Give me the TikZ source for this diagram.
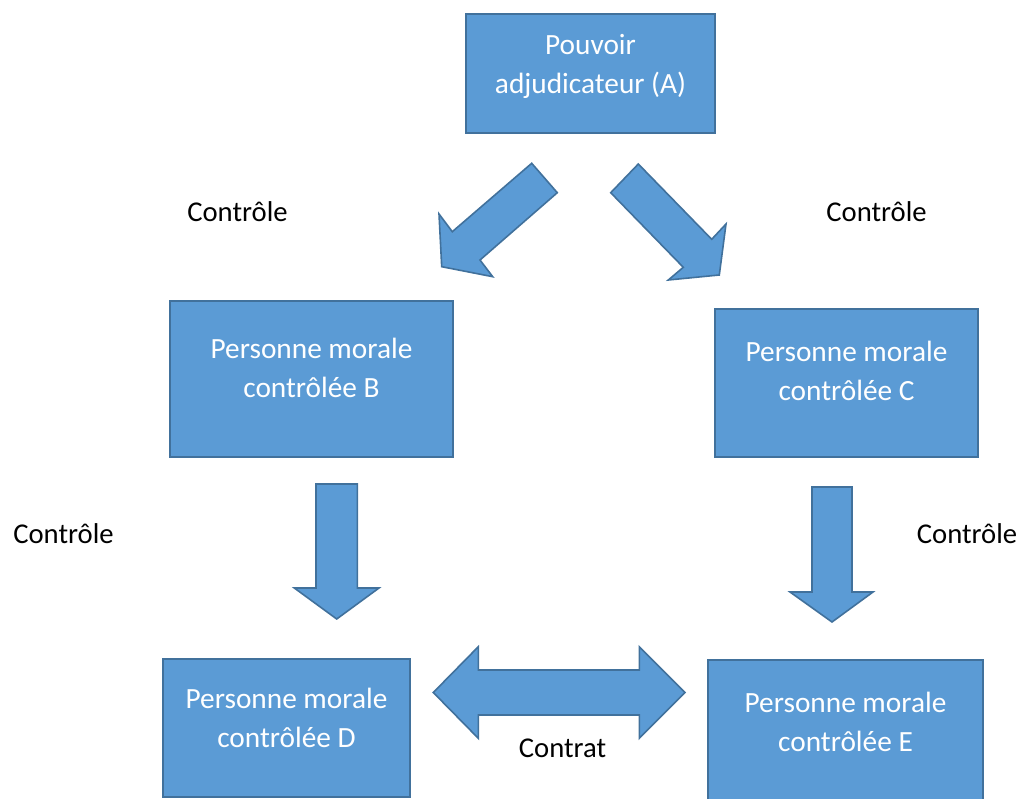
\documentclass[tikz,border=0pt]{standalone}
\usepackage{fontspec}
\setmainfont{Carlito}
\usepackage{tikz}
\definecolor{boxfill}{HTML}{5B9BD5}
\definecolor{boxline}{HTML}{41719C}

\begin{document}
\begin{tikzpicture}[x=0.75pt,y=-0.75pt,font=\fontsize{21.5}{29}\selectfont]
  \tikzstyle{box}=[draw=boxline,fill=boxfill,line width=1.2pt,inner sep=0pt]
  \tikzstyle{boxtext}=[text=white,align=center,inner sep=0pt,
                       font=\fontsize{22}{29}\selectfont]
  \tikzstyle{blockarrow}=[draw=boxline,fill=boxfill,line width=1.2pt,line join=miter]
  \tikzstyle{lab}=[text=black,inner sep=0pt]

  \useasboundingbox (0,0) rectangle (1024,799);

  % boxes
  \node[box,minimum width=186.75pt,minimum height=89.25pt] (A) at (590.5,73.5) {};
  \node[box,minimum width=212.25pt,minimum height=117pt]   (B) at (311.5,379)  {};
  \node[box,minimum width=197.25pt,minimum height=111pt]   (C) at (846.5,383)  {};
  \node[box,minimum width=185.25pt,minimum height=103.5pt] (D) at (286.5,728)  {};
  \node[box,minimum width=206.25pt,minimum height=109.5pt] (E) at (845.5,733)  {};

  \node[boxtext] (At) at (590.5,66.5) {Pouvoir\\adjudicateur (A)};
  \node[boxtext] (Bt) at (311.5,367.8) {Personne morale\\contrôlée B};
  \node[boxtext] (Ct) at (846.5,371) {Personne morale\\contrôlée C};
  \node[boxtext] (Dt) at (286.5,717.8) {Personne morale\\contrôlée D};
  \node[boxtext] (Et) at (845.5,722) {Personne morale\\contrôlée E};

  % labels
  \node[lab] (l1) at (237.5,212) {Contrôle};
  \node[lab] (l2) at (876.5,212) {Contrôle};
  \node[lab] (l3) at (63.5,533.5) {Contrôle};
  \node[lab] (l4) at (967,533.5) {Contrôle};
  \node[lab] (l5) at (562.5,748) {Contrat};

  % block arrows
  \draw[blockarrow] (531.7,163.3) -- (557.3,192.7) -- (480,260) -- (492.7,276.7)
        -- (441.7,266.7) -- (439,214) -- (452.3,231.7) -- cycle;
  \draw[blockarrow] (638.3,164) -- (711.7,239.3) -- (726,224) -- (719.3,275)
        -- (668.3,280) -- (683.3,267.3) -- (610.7,192.7) -- cycle;
  \draw[blockarrow] (316,484) -- (357.3,484) -- (357.3,588) -- (379,588)
        -- (336.7,619) -- (294.3,588) -- (316,588) -- cycle;
  \draw[blockarrow] (812,487) -- (852,487) -- (852,592) -- (873,592)
        -- (832,622) -- (790,592) -- (812,592) -- cycle;
  \draw[blockarrow] (433.3,692.5) -- (478.3,646.7) -- (478.3,670) -- (639.3,670)
        -- (639.3,646.7) -- (685,692.5) -- (639.3,738.3) -- (639.3,715)
        -- (478.3,715) -- (478.3,738.3) -- cycle;
\end{tikzpicture}
\end{document}
